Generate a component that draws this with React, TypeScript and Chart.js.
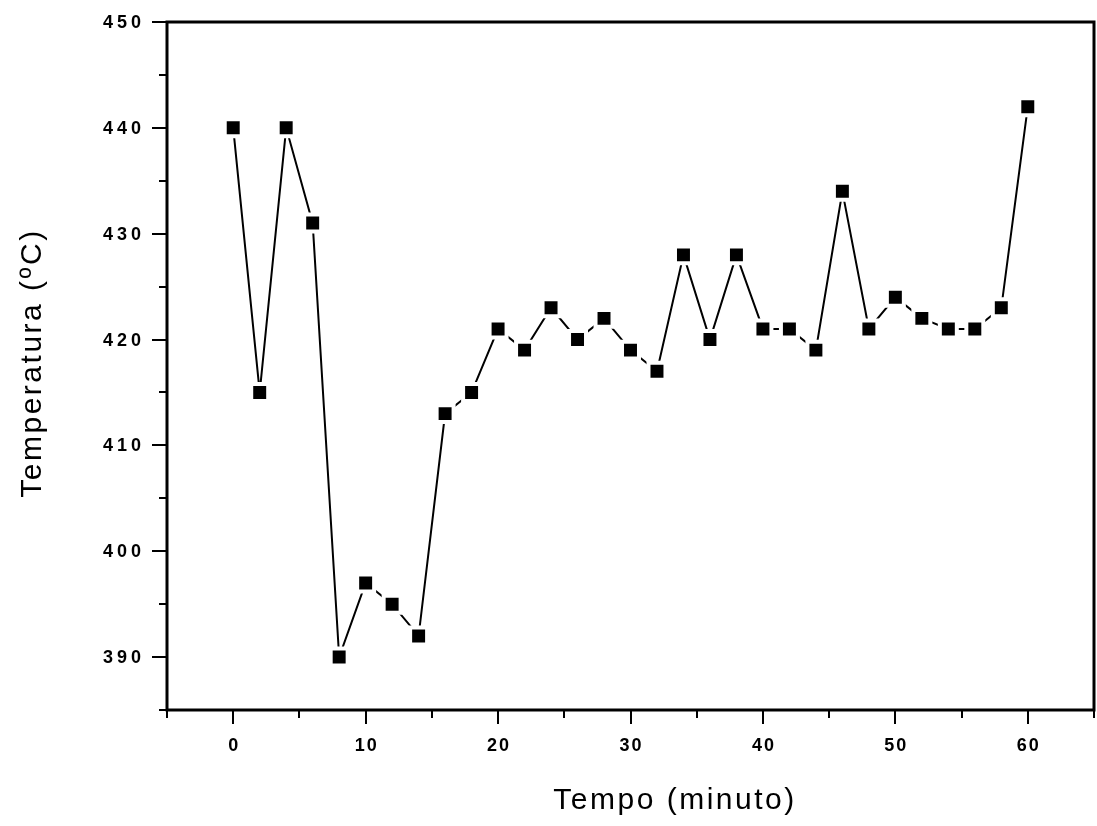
import React, { useEffect, useRef } from "react";
import { Chart, registerables } from "chart.js";

Chart.register(...registerables);

const minutes = [0, 2, 4, 6, 8, 10, 12, 14, 16, 18, 20, 22, 24, 26, 28, 30, 32, 34, 36, 38, 40, 42, 44, 46, 48, 50, 52, 54, 56, 58, 60];
const temperatures = [440, 415, 440, 431, 390, 397, 395, 392, 413, 415, 421, 419, 423, 420, 422, 419, 417, 428, 420, 428, 421, 421, 419, 434, 421, 424, 422, 421, 421, 423, 442];
const xTickLabels = [0, 10, 20, 30, 40, 50, 60];
const yTickLabels = [390, 400, 410, 420, 430, 440, 450];

const xTitle = "Tempo (minuto)";
const yTitle = "Temperatura (ºC)";

const axisPlugin = {
  id: "axisDecor",
  afterDraw(chart: any) {
    const ctx = chart.ctx;
    const area = chart.chartArea;
    const xs = chart.scales.x;
    const ys = chart.scales.y;
    ctx.save();
    ctx.strokeStyle = "#000";
    ctx.fillStyle = "#000";
    // frame
    ctx.lineWidth = 3;
    ctx.strokeRect(area.left, area.top, area.right - area.left, area.bottom - area.top);
    ctx.lineWidth = 2;
    // x ticks
    for (let v = -5; v <= 65; v += 5) {
      const px = Math.round(xs.getPixelForValue(v));
      const major = xTickLabels.includes(v);
      ctx.beginPath();
      ctx.moveTo(px, area.bottom);
      ctx.lineTo(px, area.bottom + (major ? 14 : 8));
      ctx.stroke();
    }
    // y ticks
    for (let v = 385; v <= 450; v += 5) {
      const py = Math.round(ys.getPixelForValue(v));
      const major = yTickLabels.includes(v);
      ctx.beginPath();
      ctx.moveTo(area.left, py);
      ctx.lineTo(area.left - (major ? 15 : 8), py);
      ctx.stroke();
    }
    // tick labels
    ctx.font = "bold 18px 'Liberation Sans'";
    ctx.textBaseline = "middle";
    ctx.textAlign = "center";
    (ctx as any).letterSpacing = "2px";
    for (const v of xTickLabels) {
      ctx.fillText(String(v), xs.getPixelForValue(v) + 1, 746);
    }
    ctx.textAlign = "right";
    (ctx as any).letterSpacing = "4px";
    for (const v of yTickLabels) {
      ctx.fillText(String(v), 145, ys.getPixelForValue(v) + 1);
    }
    // titles
    ctx.font = "30px 'Liberation Sans'";
    (ctx as any).letterSpacing = "2.5px";
    ctx.textAlign = "center";
    ctx.fillText(xTitle, 675, 801);
    ctx.translate(33, 363);
    ctx.rotate(-Math.PI / 2);
    ctx.fillText(yTitle, 0, 0);
    ctx.restore();
  },
};

export default function App() {
  const ref = useRef<HTMLCanvasElement>(null);
  useEffect(() => {
    if (!ref.current) return;
    const chart = new Chart(ref.current, {
      type: "line",
      data: {
        datasets: [
          {
            data: minutes.map((m, i) => ({ x: m, y: temperatures[i] })),
            borderColor: "#000",
            borderWidth: 2,
            pointStyle: "rect",
            pointRadius: 12,
            pointBackgroundColor: "#000",
            pointBorderColor: "#fff",
            pointBorderWidth: 4,
            tension: 0,
            fill: false,
          },
        ],
      },
      options: {
        responsive: false,
        animation: false,
        events: [],
        layout: { autoPadding: false, padding: { top: 22, right: 3, left: 0, bottom: 0 } },
        plugins: { legend: { display: false }, tooltip: { enabled: false } },
        scales: {
          x: {
            type: "linear",
            min: -5,
            max: 65,
            border: { display: false },
            grid: { display: false, drawTicks: false },
            ticks: { display: false, stepSize: 5 },
            afterFit: (s: any) => {
              s.height = 116;
              s.paddingLeft = 0;
              s.paddingRight = 0;
              s.paddingTop = 0;
              s.paddingBottom = 0;
            },
          },
          y: {
            type: "linear",
            min: 385,
            max: 450,
            border: { display: false },
            grid: { display: false, drawTicks: false },
            ticks: { display: false, stepSize: 5 },
            afterFit: (s: any) => {
              s.width = 167;
              s.paddingLeft = 0;
              s.paddingRight = 0;
              s.paddingTop = 0;
              s.paddingBottom = 0;
            },
          },
        },
      },
      plugins: [axisPlugin],
    });
    return () => chart.destroy();
  }, []);
  return (
    <div style={{ position: "fixed", left: 0, top: 0, width: 1097, height: 826, background: "#fff" }}>
      <canvas ref={ref} width={1097} height={826} style={{ display: "block" }} />
    </div>
  );
}
